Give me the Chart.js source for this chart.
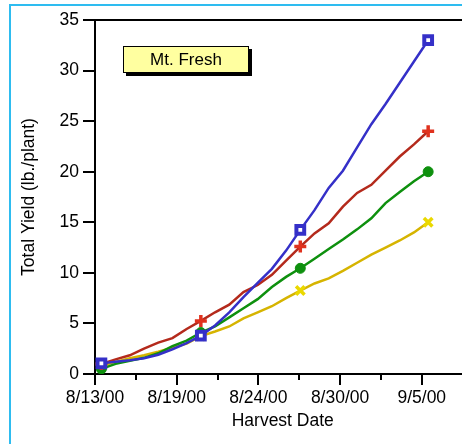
<!DOCTYPE html>
<html>
<head>
<meta charset="utf-8">
<script src="https://cdn.jsdelivr.net/npm/chart.js@4.4.1/dist/chart.umd.min.js"></script>
<style>
  html, body { margin: 0; padding: 0; background: #ffffff; overflow: hidden; width: 462px; height: 444px; }
  #frame { position: absolute; left: 9px; top: 4px; width: 600px; height: 600px;
           border-left: 2px solid #2ebcf0; border-top: 2px solid #2ebcf0; }
  #c { position: absolute; left: 0; top: 0; }
</style>
</head>
<body>
<div id="frame"></div>
<canvas id="c" width="480" height="444"></canvas>
<script>
// ---- Data (x in "day of August": 32 = 9/1) ----
const days = [13.45, 14.45, 15.45, 16.45, 17.45, 18.45, 19.45, 20.45, 21.45, 22.45, 23.45, 24.45,
              25.45, 26.45, 27.45, 28.45, 29.45, 30.45, 31.45, 32.45, 33.45, 34.45, 35.45, 36.45];
const blueYield   = [1.05, 1.2, 1.35, 1.55, 1.9, 2.45, 3.05, 3.8, 4.8, 6.1, 7.6, 9.0,
                     10.4, 12.2, 14.25, 16.2, 18.4, 20.1, 22.4, 24.7, 26.7, 28.8, 30.9, 33.0];
const redYield    = [1.0, 1.45, 1.85, 2.5, 3.1, 3.55, 4.45, 5.25, 6.1, 6.85, 8.1, 8.8,
                     9.8, 11.2, 12.6, 13.9, 14.9, 16.55, 17.9, 18.7, 20.1, 21.5, 22.7, 24.0];
const greenYield  = [0.5, 1.0, 1.3, 1.6, 2.05, 2.75, 3.3, 4.1, 4.7, 5.6, 6.5, 7.4,
                     8.6, 9.6, 10.45, 11.4, 12.35, 13.3, 14.3, 15.4, 16.9, 18.0, 19.05, 20.0];
const yellowYield = [0.8, 1.2, 1.55, 1.85, 2.2, 2.6, 3.0, 3.75, 4.2, 4.7, 5.5, 6.1,
                     6.7, 7.5, 8.25, 8.95, 9.45, 10.2, 11.0, 11.8, 12.5, 13.2, 14.0, 15.0];
const markerIdx = [0, 7, 14, 23];
const xTickValues = [13, 18.75, 24.5, 30.25, 36];
const xTickLabels = ['8/13/00', '8/19/00', '8/24/00', '8/30/00', '9/5/00'];
const xMinorValues = [15.875, 21.625, 27.375, 33.125];
const yTickValues = [0, 5, 10, 15, 20, 25, 30, 35];
const boxLabel = 'Mt. Fresh';
const xTitle = 'Harvest Date';
const yTitle = 'Total Yield (lb./plant)';

const FONT = "'Liberation Sans', Arial, Helvetica, sans-serif";

function pts(vals) { return days.map((d, i) => ({ x: d, y: vals[i] })); }
function rad(r) { return ctx => markerIdx.includes(ctx.dataIndex) ? r : 0; }

const minorTicks = {
  id: 'minorTicks',
  afterDraw(chart) {
    const s = chart.scales.x, c = chart.ctx;
    c.save();
    c.strokeStyle = '#000'; c.lineWidth = 2;
    xMinorValues.forEach(v => {
      const px = Math.round(s.getPixelForValue(v));
      c.beginPath(); c.moveTo(px, s.top); c.lineTo(px, s.top + 6); c.stroke();
    });
    c.restore();
  }
};

const labelBox = {
  id: 'labelBox',
  afterDraw(chart) {
    const c = chart.ctx;
    const x = 123, y = 46, w = 126, h = 27;
    c.save();
    c.fillStyle = '#000';
    c.fillRect(x + 3, y + 3, w, h);
    c.fillStyle = '#ffffa0';
    c.fillRect(x, y, w, h);
    c.strokeStyle = '#000'; c.lineWidth = 1;
    c.strokeRect(x + 0.5, y + 0.5, w - 1, h - 1);
    c.fillStyle = '#000';
    c.font = '17px ' + FONT;
    c.textAlign = 'center'; c.textBaseline = 'middle';
    c.fillText(boxLabel, x + w / 2, y + h / 2 + 1);
    c.restore();
  }
};

new Chart(document.getElementById('c'), {
  type: 'line',
  data: {
    datasets: [
      { data: pts(blueYield), borderColor: '#3530c8', borderWidth: 2.5,
        pointStyle: 'rect', pointRadius: rad(5.5), pointBorderWidth: 4,
        pointBorderColor: '#3530c8', pointBackgroundColor: '#ffffff', tension: 0 },
      { data: pts(redYield), borderColor: '#b42a1c', borderWidth: 2.5,
        pointStyle: 'cross', pointRadius: rad(6), pointBorderWidth: 3.5,
        pointBorderColor: '#e0321e', pointBackgroundColor: '#e0321e', tension: 0 },
      { data: pts(greenYield), borderColor: '#0e900e', borderWidth: 2.5,
        pointStyle: 'circle', pointRadius: rad(5), pointBorderWidth: 1,
        pointBorderColor: '#0e900e', pointBackgroundColor: '#0e900e', tension: 0 },
      { data: pts(yellowYield), borderColor: '#d6b400', borderWidth: 2.5,
        pointStyle: 'crossRot', pointRadius: rad(6), pointBorderWidth: 3.5,
        pointBorderColor: '#ead800', pointBackgroundColor: '#ead800', tension: 0 }
    ]
  },
  options: {
    responsive: false,
    animation: false,
    devicePixelRatio: 1,
    layout: { padding: { left: 0, right: 0, top: 20, bottom: 0 } },
    plugins: { legend: { display: false }, tooltip: { enabled: false } },
    scales: {
      x: {
        type: 'linear', min: 13, max: 39.43,
        afterBuildTicks: s => { s.ticks = xTickValues.map(v => ({ value: v })); },
        afterFit: s => { s.height = 70; },
        border: { display: true, color: '#000', width: 2 },
        grid: { drawOnChartArea: false, color: '#000', lineWidth: 2, tickLength: 11 },
        ticks: {
          color: '#000', font: { family: FONT, size: 17.5 }, padding: 3, maxRotation: 0,
          callback: v => { const i = xTickValues.indexOf(v); return i >= 0 ? xTickLabels[i] : ''; }
        },
        title: { display: true, text: xTitle, color: '#000',
                 font: { family: FONT, size: 17.5 }, padding: { top: 0, bottom: 12 } }
      },
      y: {
        type: 'linear', min: 0, max: 35,
        afterBuildTicks: s => { s.ticks = yTickValues.map(v => ({ value: v })); },
        afterFit: s => { s.width = 95; },
        border: { display: true, color: '#000', width: 2 },
        grid: { drawOnChartArea: true, lineWidth: 2, tickLength: 12,
                color: ctx => (ctx.tick && ctx.tick.value === 35) ? '#000' : 'rgba(0,0,0,0)',
                tickColor: '#000' },
        ticks: { color: '#000', font: { family: FONT, size: 17.5 }, padding: 4 },
        title: { display: true, text: yTitle, color: '#000',
                 font: { family: FONT, size: 17.5 }, padding: { top: 19, bottom: 0 } }
      }
    }
  },
  plugins: [minorTicks, labelBox]
});
</script>
</body>
</html>
